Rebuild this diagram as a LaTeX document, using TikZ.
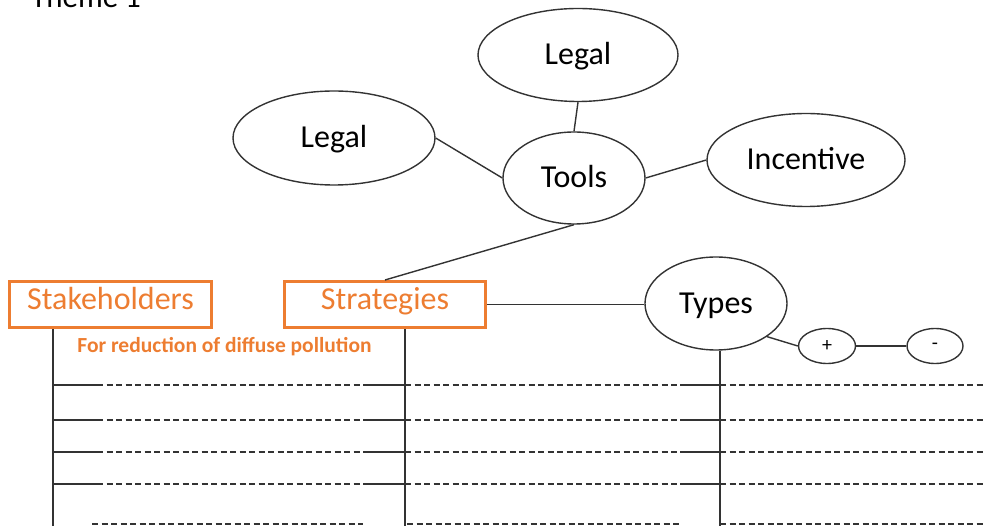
\documentclass[tikz,border=0pt]{standalone}
\usepackage{fontspec}
\setmainfont{Carlito}
\usetikzlibrary{shapes.geometric,calc}
\definecolor{orng}{HTML}{ED7D31}
\definecolor{ink}{HTML}{333333}
\tikzset{
  ell/.style={ellipse,draw=ink,line width=1.4pt,inner sep=0pt,text height=20pt,text depth=0pt,font=\fontsize{32}{38}\selectfont},
  smell/.style={ellipse,draw=ink,line width=1.4pt,inner sep=0pt,font=\fontsize{20}{22}\selectfont},
  obox/.style={rectangle,draw=orng,line width=3pt,inner sep=0pt,text=orng,text height=20pt,text depth=9pt,font=\fontsize{32}{38}\selectfont},
  ln/.style={draw=ink,line width=1.4pt},
  dsh/.style={draw=ink,line width=1.4pt,dash pattern=on 6pt off 3.5pt},
}
\begin{document}
\begin{tikzpicture}[x=1pt,y=-1pt]
\useasboundingbox (0,0) rectangle (985,526);
\node[anchor=base west,inner sep=0pt,font=\fontsize{31}{36}\selectfont] (theme) at (31,8) {Theme 1};
\node[ell,minimum width=202pt,minimum height=94pt] (legalL) at (334,138) {Legal};
\node[ell,minimum width=200pt,minimum height=93pt] (legalT) at (578,55) {Legal};
\node[ell,minimum width=142pt,minimum height=92pt] (tools) at (574,178) {Tools};
\node[ell,minimum width=198pt,minimum height=93pt] (incentive) at (806,160) {Incentive};
\node[ell,minimum width=142pt,minimum height=93pt] (types) at (716,303.5) {Types};
\node[smell,minimum width=57pt,minimum height=35pt] (plus) at (827,346) {+};
\node[smell,minimum width=56pt,minimum height=35pt] (minus) at (935,346) {-};
\node[obox,minimum width=202pt,minimum height=46pt] (stake) at (110.5,304.5) {Stakeholders};
\node[obox,minimum width=201pt,minimum height=46pt] (strat) at (385,304.5) {Strategies};
\node[anchor=base,inner sep=0pt,text=orng,font=\bfseries\fontsize{21.5}{25}\selectfont] (sub) at (224.5,353) {For reduction of diffuse pollution};

\draw[ln] (legalL.east) -- (tools.west);
\draw[ln] (legalT.south) -- (tools.north);
\draw[ln] (tools.east) -- (incentive.west);
\draw[ln] (tools.south) -- (strat.north);
\draw[ln] (strat.east) -- (strat.east -| types.west);
\draw[ln] (types.-33) -- (plus.west);
\draw[ln] (plus.east) -- (minus.west);

\coordinate (v1) at (53,526);
\coordinate (v2) at (405,526);
\coordinate (v3) at (720,526);
\draw[ln] (v1 |- stake.south) -- (v1);
\draw[ln] (v2 |- strat.south) -- (v2);
\draw[ln] (v3 |- types.south) -- (v3);

\foreach \y in {385,420,452,484}{
  \draw[ln] (53,\y) -- (97,\y);
  \draw[dsh] (97,\y) -- (363,\y);
  \draw[ln] (363,\y) -- (405,\y);
  \draw[dsh] (405,\y) -- (680,\y);
  \draw[ln] (680,\y) -- (720,\y);
  \draw[dsh] (720,\y) -- (983,\y);
}
\draw[dsh] (92,524) -- (363,524);
\draw[dsh] (407,524) -- (679,524);
\draw[dsh] (720,524) -- (983,524);
\end{tikzpicture}
\end{document}
